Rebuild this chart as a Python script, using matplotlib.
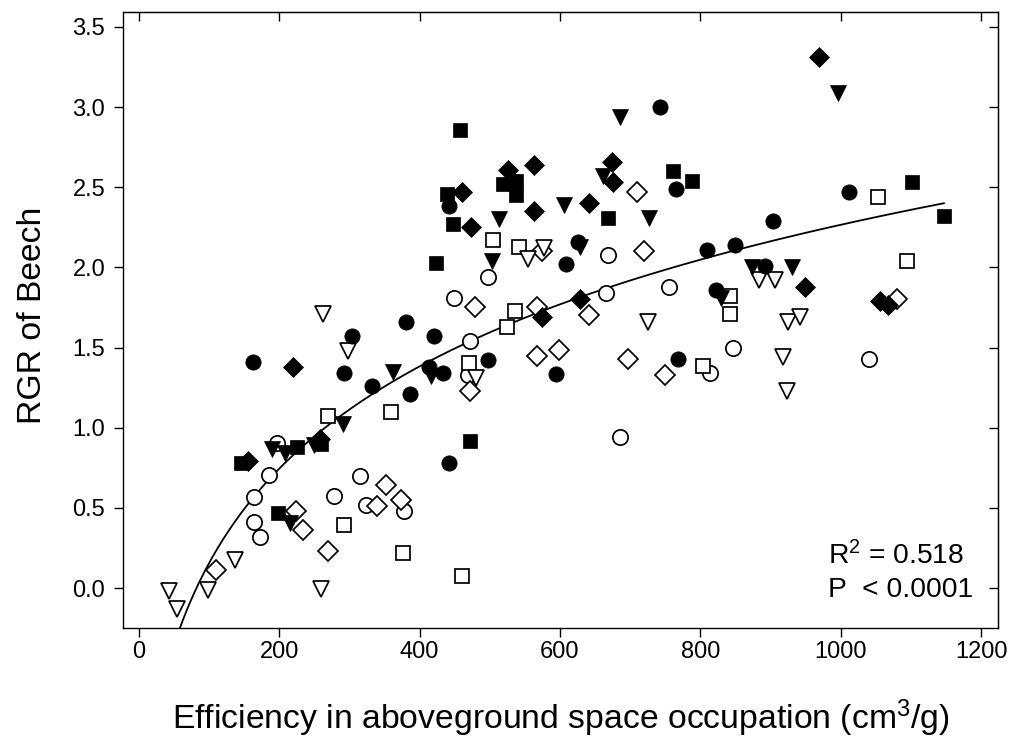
import numpy as np
import matplotlib
matplotlib.use("Agg")
import matplotlib.pyplot as plt

plt.rcParams['font.family'] = ['Liberation Sans', 'DejaVu Sans']
plt.rcParams['mathtext.fontset'] = 'custom'
plt.rcParams['mathtext.rm'] = 'Liberation Sans'
plt.rcParams['mathtext.it'] = 'Liberation Sans:italic'

# ---- data (x: efficiency cm3/g, y: RGR) ----
fc_x = [163, 292, 304, 332, 380, 386, 414, 420, 434, 442, 442, 498, 594, 609, 626, 742, 765, 768, 809, 823, 849, 892, 904, 1012]
fc_y = [1.41, 1.34, 1.57, 1.26, 1.66, 1.21, 1.38, 1.57, 1.34, 2.38, 0.78, 1.42, 1.335, 2.02, 2.16, 3.00, 2.49, 1.43, 2.11, 1.86, 2.14, 2.01, 2.29, 2.47]

fs_x = [146, 199, 226, 260, 423, 439, 448, 458, 472, 519, 537, 538, 668, 761, 788, 1102, 1147]
fs_y = [0.78, 0.47, 0.88, 0.90, 2.03, 2.46, 2.27, 2.86, 0.915, 2.52, 2.54, 2.45, 2.31, 2.60, 2.54, 2.53, 2.32]

fd_x = [155, 219, 258, 461, 473, 526, 563, 563, 574, 629, 642, 674, 676, 949, 969, 1056, 1068]
fd_y = [0.79, 1.38, 0.93, 2.47, 2.25, 2.61, 2.64, 2.35, 1.69, 1.80, 2.40, 2.66, 2.53, 1.88, 3.31, 1.79, 1.765]

ft_x = [190, 209, 216, 250, 291, 362, 417, 503, 513, 606, 628, 662, 685, 727, 830, 873, 930, 996]
ft_y = [0.87, 0.84, 0.405, 0.895, 1.02, 1.35, 1.32, 2.04, 2.30, 2.39, 2.13, 2.57, 2.94, 2.31, 1.81, 2.00, 2.00, 3.09]

oc_x = [164, 164, 172, 186, 197, 278, 315, 324, 378, 449, 469, 472, 497, 666, 669, 686, 756, 814, 847, 1041]
oc_y = [0.568, 0.41, 0.318, 0.707, 0.905, 0.576, 0.70, 0.52, 0.48, 1.81, 1.33, 1.54, 1.94, 1.84, 2.08, 0.94, 1.88, 1.34, 1.50, 1.43]

os_x = [270, 292, 360, 377, 460, 470, 504, 524, 536, 541, 804, 842, 842, 1053, 1095]
os_y = [1.07, 0.39, 1.10, 0.218, 0.073, 1.405, 2.17, 1.63, 1.73, 2.13, 1.387, 1.82, 1.71, 2.44, 2.04]

od_x = [110, 224, 234, 270, 339, 352, 374, 472, 479, 567, 568, 574, 598, 641, 697, 710, 720, 750, 1080]
od_y = [0.114, 0.482, 0.364, 0.229, 0.51, 0.645, 0.55, 1.23, 1.755, 1.75, 1.45, 2.10, 1.485, 1.70, 1.43, 2.47, 2.10, 1.33, 1.80]

ot_x = [43, 54, 99, 137, 260, 263, 298, 480, 555, 577, 726, 883, 906, 918, 924, 925, 942]
ot_y = [-0.02, -0.13, -0.01, 0.177, -0.006, 1.71, 1.48, 1.31, 2.05, 2.12, 1.66, 1.92, 1.92, 1.44, 1.23, 1.66, 1.69]

# fitted curve y = a + b*ln(x + c)
fit_a, fit_b, fit_c = -4.691, 1.0035, 25.0
fit_xmax = 1147

x_ticks = [0, 200, 400, 600, 800, 1000, 1200]
y_ticks = [0.0, 0.5, 1.0, 1.5, 2.0, 2.5, 3.0, 3.5]

W, H = 1013, 740
fig = plt.figure(figsize=(W / 100, H / 100), dpi=100)
ax = fig.add_axes([122.5 / W, (H - 628) / H, (998 - 122.5) / W, (628 - 12) / H])

ms_c, ms_s, ms_d, ms_t = 11.0, 10.2, 10.0, 11.4
lw_o = 1.25
open_kw = dict(linestyle='none', markerfacecolor='white', markeredgecolor='black', markeredgewidth=lw_o)
fill_kw = dict(linestyle='none', color='black', markeredgewidth=0.5)

# curve
x_lo = np.exp((-0.26 - fit_a) / fit_b) - fit_c
xc = np.linspace(x_lo, fit_xmax, 400)
ax.plot(xc, fit_a + fit_b * np.log(xc + fit_c), color='black', lw=1.3, zorder=2)

ax.plot(oc_x, oc_y, marker='o', ms=ms_c, zorder=3, **open_kw)
ax.plot(os_x, os_y, marker='s', ms=ms_s, zorder=3, **open_kw)
ax.plot(od_x, od_y, marker='D', ms=ms_d, zorder=3, **open_kw)
ax.plot(ot_x, ot_y, marker='v', ms=ms_t, zorder=3, **open_kw)
ax.plot(fc_x, fc_y, marker='o', ms=ms_c, zorder=4, **fill_kw)
ax.plot(fs_x, fs_y, marker='s', ms=ms_s, zorder=4, **fill_kw)
ax.plot(fd_x, fd_y, marker='D', ms=ms_d, zorder=4, **fill_kw)
ax.plot(ft_x, ft_y, marker='v', ms=ms_t, zorder=4, **fill_kw)

ax.set_xlim(-23.2, 1224.1)
ax.set_ylim(-0.2495, 3.593)
ax.set_xticks(x_ticks)
ax.set_xticklabels([str(v) for v in x_ticks])
ax.set_yticks(y_ticks)
ax.set_yticklabels([f"{v:.1f}" for v in y_ticks])

for s in ax.spines.values():
    s.set_linewidth(1.0)
ax.tick_params(axis='both', which='major', direction='out', length=6.5, width=1.0,
               labelsize=17, top=False, right=False)
ax.tick_params(axis='x', pad=3)
ax.tick_params(axis='y', pad=6)

# mirrored inward ticks on top/right
sec_x = ax.secondary_xaxis('top')
sec_x.set_xticks(x_ticks)
sec_x.tick_params(direction='in', length=6.5, width=1.0, labelsize=0, labeltop=False)
sec_y = ax.secondary_yaxis('right')
sec_y.set_yticks(y_ticks)
sec_y.tick_params(direction='in', length=6.5, width=1.0, labelsize=0, labelright=False)

fig.text(561 / W, 1 - 718 / H, r"Efficiency in aboveground space occupation (cm$^{\mathrm{3}}$/g)",
         ha='center', va='center', fontsize=24.3)
fig.text(33 / W, 1 - 315 / H, "RGR of Beech", ha='center', va='center', rotation=90, fontsize=24.3)

fig.text(828 / W, 1 - 564 / H, r"R$^{\mathrm{2}}$ = 0.518", ha='left', va='baseline', fontsize=20.3)
fig.text(828 / W, 1 - 597 / H, "P  < 0.0001", ha='left', va='baseline', fontsize=20.3)

fig.savefig("out.png", dpi=100)
